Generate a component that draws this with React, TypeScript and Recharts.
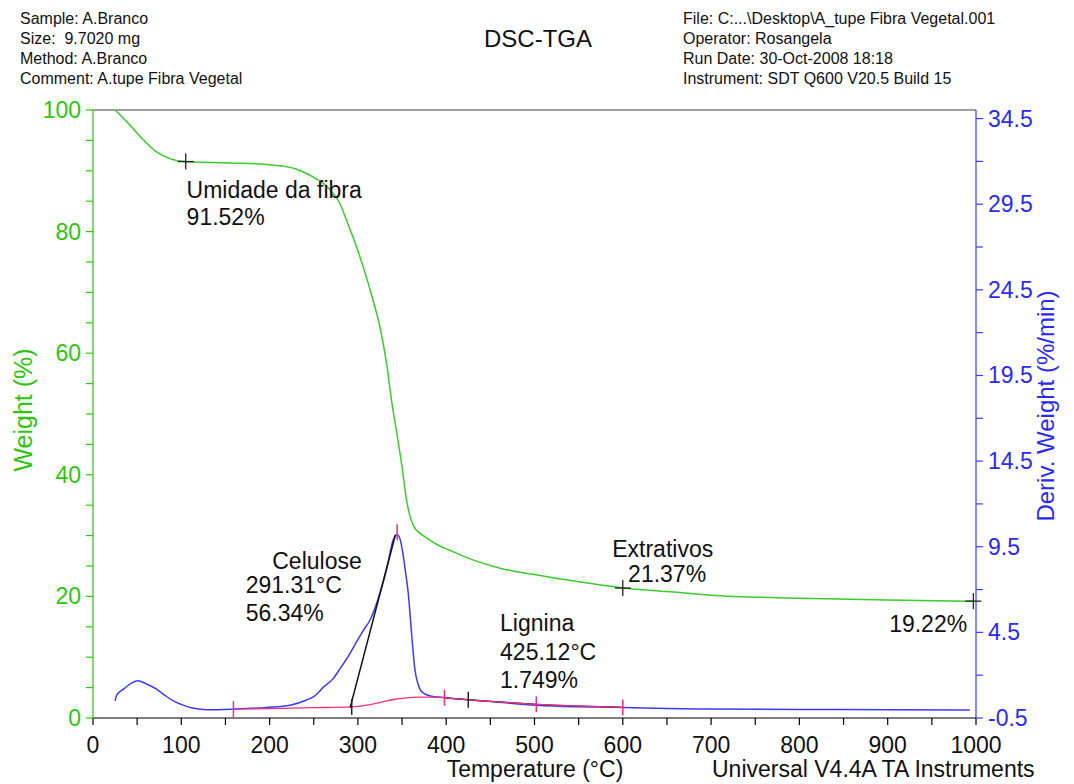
import { LineChart, Line, XAxis, YAxis, ReferenceLine, ReferenceDot } from 'recharts';

// SDT Q600 run, A.tupe fibra vegetal — TGA weight (left) + DTG (right)
const FONT = '"Liberation Sans", Arial, Helvetica, sans-serif';
const GREEN = '#2fc40f';
const GREEN_LINE = '#3acc2a';
const BLUE = '#2b2bf0';
const BLUE_LINE = '#3b3bff';
const PINK = '#f0307a';

const weightTemp = [25, 42, 57, 72, 87, 106, 155, 204, 230, 249, 262, 272, 280, 287, 296, 306, 317, 325, 333, 338, 344, 350, 355, 359, 363, 370, 378, 390, 404, 430, 462, 500, 550, 600, 650, 700, 800, 900, 998];
const weightPct = [100, 97.5, 95.1, 93.1, 92.0, 91.5, 91.3, 90.95, 90.3, 89.0, 87.8, 86.3, 84.5, 81.9, 78.5, 74.2, 68.8, 64.3, 57.8, 52.3, 46.9, 41.3, 35.9, 33.2, 31.6, 30.4, 29.6, 28.5, 27.6, 26.0, 24.6, 23.6, 22.4, 21.4, 20.8, 20.2, 19.7, 19.4, 19.22];

const dtgTemp = [25, 27, 35, 44, 51, 60, 72, 82, 91, 102, 113, 129, 159, 197, 223, 242, 250, 261, 272, 280, 287, 298, 306, 314, 325, 333, 340, 344.5, 348, 351, 354, 357, 361, 364.5, 368, 372, 381, 400, 427, 460, 502, 550, 600, 650, 700, 800, 900, 993];
const dtgRate = [0.5, 0.85, 1.2, 1.55, 1.67, 1.5, 1.18, 0.8, 0.5, 0.25, 0.08, -0.02, 0.02, 0.12, 0.25, 0.55, 0.75, 1.3, 1.8, 2.4, 2.93, 3.9, 4.6, 5.25, 6.8, 8.3, 9.9, 10.2, 9.9, 9.1, 8.0, 6.8, 4.3, 2.35, 1.5, 1.05, 0.8, 0.68, 0.56, 0.42, 0.25, 0.16, 0.12, 0.05, 0.02, 0.0, -0.02, -0.03];

// integration baseline (pink) and lignina segment (black)
const baseTemp = [159, 200, 250, 293, 310, 325, 340, 355, 370, 385, 400, 425, 450, 502, 550, 600];
const baseRate = [0.02, 0.05, 0.1, 0.15, 0.25, 0.4, 0.58, 0.68, 0.72, 0.72, 0.68, 0.56, 0.47, 0.3, 0.2, 0.12];
const ligTemp = [398, 425, 460, 502, 550, 600];
const ligRate = [0.68, 0.56, 0.44, 0.3, 0.2, 0.12];

// onset tangent of the celulose peak
const tangentTemp = [291.31, 342.5];
const tangentRate = [0.12, 10.2];

const pinkMarkTemp = [159, 344.5, 398, 502, 600];
const pinkMarkRate = [0.02, 10.35, 0.68, 0.3, 0.12];
const blackMarkTemp = [293, 425];
const blackMarkRate = [0.15, 0.56];
const crossTemp = [105, 600, 997];
const crossPct = [91.52, 21.37, 19.22];

const noteText = ['Umidade da fibra', '91.52%', 'Celulose', '291.31°C', '56.34%', 'Lignina', '425.12°C', '1.749%', 'Extrativos', '21.37%', '19.22%'];
const noteTemp = [106, 106, 203, 173, 173, 461, 461, 461, 588, 606, 990];
const notePct = [85.5, 81.1, 24.5, 20.5, 16.0, 14.3, 9.5, 4.9, 26.5, 22.4, 14.1];
const noteAnchor = ['start', 'start', 'start', 'start', 'start', 'start', 'start', 'start', 'start', 'start', 'end'];

const xLabels = [0, 100, 200, 300, 400, 500, 600, 700, 800, 900, 1000];
const xMinor = [50, 150, 250, 350, 450, 550, 650, 750, 850, 950];
const wLabels = [0, 20, 40, 60, 80, 100];
const wMinor = [5, 10, 15, 25, 30, 35, 45, 50, 55, 65, 70, 75, 85, 90, 95];
const dLabels = [-0.5, 4.5, 9.5, 14.5, 19.5, 24.5, 29.5, 34.5];
const dMinor = [2, 7, 12, 17, 22, 27, 32];

const headerLeft = ['Sample: A.Branco', 'Size:  9.7020 mg', 'Method: A.Branco', 'Comment: A.tupe Fibra Vegetal'];
const headerRight = ['File: C:...\\Desktop\\A_tupe Fibra Vegetal.001', 'Operator: Rosangela', 'Run Date: 30-Oct-2008 18:18', 'Instrument: SDT Q600 V20.5 Build 15'];

const weightData = weightTemp.map((t, i) => ({ t, w: weightPct[i] }));
const dtgData = dtgTemp.map((t, i) => ({ t, d: dtgRate[i] }));
const baseData = baseTemp.map((t, i) => ({ t, d: baseRate[i] }));
const ligData = ligTemp.map((t, i) => ({ t, d: ligRate[i] }));
const sortNum = (a: number[]) => [...a].sort((p, q) => p - q);

function XTick({ x, y, payload }: any) {
  const major = xLabels.includes(payload.value);
  return (
    <g>
      <line x1={x} x2={x} y1={y} y2={y + 7} stroke="#000" strokeWidth={1.2} />
      {major && <text x={x} y={y + 35} textAnchor="middle" fontSize={23} fontFamily={FONT} fill="#111">{payload.value}</text>}
    </g>
  );
}

function WTick({ x, y, payload }: any) {
  const major = wLabels.includes(payload.value);
  return (
    <g>
      <line x1={x - 7} x2={x} y1={y} y2={y} stroke={GREEN} strokeWidth={1.2} />
      {major && <text x={x - 12} y={y + 8} textAnchor="end" fontSize={23} fontFamily={FONT} fill={GREEN}>{payload.value}</text>}
    </g>
  );
}

function DTick({ x, y, payload }: any) {
  const major = dLabels.includes(payload.value);
  return (
    <g>
      <line x1={x} x2={x + 7} y1={y} y2={y} stroke={BLUE_LINE} strokeWidth={1.2} />
      {major && <text x={x + 12} y={y + 8} textAnchor="start" fontSize={23} fontFamily={FONT} fill={BLUE}>{String(payload.value)}</text>}
    </g>
  );
}

const vMark = (color: string) => (p: any) => (
  <line x1={p.cx} x2={p.cx} y1={p.cy - 8} y2={p.cy + 8} stroke={color} strokeWidth={1.5} />
);

const cross = (p: any) => (
  <g stroke="#222" strokeWidth={1.3}>
    <line x1={p.cx - 8} x2={p.cx + 8} y1={p.cy} y2={p.cy} />
    <line x1={p.cx} x2={p.cx} y1={p.cy - 8} y2={p.cy + 8} />
  </g>
);

const note = (text: string, anchor: string) => (p: any) => (
  <text x={p.cx} y={p.cy} textAnchor={anchor as any} fontSize={23} fontFamily={FONT} fill="#111">{text}</text>
);

export default function App() {
  return (
    <div style={{ position: 'absolute', left: 0, top: 0, width: 1074, height: 784, background: '#fff', fontFamily: FONT }}>
      <LineChart width={1074} height={784} margin={{ top: 110, right: 0, bottom: 0, left: 0 }}>
        <XAxis xAxisId={0} type="number" dataKey="t" domain={[0, 1000]} ticks={sortNum([...xLabels, ...xMinor])} interval={0}
          height={66} tickSize={0} tickMargin={0} tick={<XTick />} axisLine={{ stroke: '#000', strokeWidth: 1.2 }} allowDataOverflow />
        <YAxis yAxisId="w" orientation="left" type="number" domain={[0, 100]} ticks={sortNum([...wLabels, ...wMinor])} interval={0}
          width={93} tickSize={0} tickMargin={0} tick={<WTick />} axisLine={{ stroke: GREEN, strokeWidth: 1.2 }} allowDataOverflow />
        <YAxis yAxisId="d" orientation="right" type="number" domain={[-0.5, 35]} ticks={sortNum([...dLabels, ...dMinor])} interval={0}
          width={98} tickSize={0} tickMargin={0} tick={<DTick />} axisLine={{ stroke: BLUE_LINE, strokeWidth: 1.2 }} allowDataOverflow />

        <ReferenceLine yAxisId="w" y={100} stroke="#7a7f7f" strokeWidth={1.5} />

        <Line yAxisId="w" data={weightData} dataKey="w" type="monotone" stroke={GREEN_LINE} strokeWidth={1.5} dot={false} isAnimationActive={false} />
        <Line yAxisId="d" data={dtgData} dataKey="d" type="monotone" stroke={BLUE_LINE} strokeWidth={1.5} dot={false} isAnimationActive={false} />
        <Line yAxisId="d" data={ligData} dataKey="d" type="monotone" stroke="#222" strokeWidth={1.2} dot={false} isAnimationActive={false} />
        <Line yAxisId="d" data={baseData} dataKey="d" type="monotone" stroke={PINK} strokeWidth={1.3} dot={false} isAnimationActive={false} />

        <ReferenceLine yAxisId="d" stroke="#111" strokeWidth={1.5}
          segment={[{ x: tangentTemp[0], y: tangentRate[0] }, { x: tangentTemp[1], y: tangentRate[1] }]} />

        {pinkMarkTemp.map((t, i) => (
          <ReferenceDot key={'p' + i} yAxisId="d" x={t} y={pinkMarkRate[i]} shape={vMark(PINK)} />
        ))}
        {blackMarkTemp.map((t, i) => (
          <ReferenceDot key={'b' + i} yAxisId="d" x={t} y={blackMarkRate[i]} shape={vMark('#222')} />
        ))}
        {crossTemp.map((t, i) => (
          <ReferenceDot key={'c' + i} yAxisId="w" x={t} y={crossPct[i]} shape={cross} />
        ))}
        {noteText.map((s, i) => (
          <ReferenceDot key={'n' + i} yAxisId="w" x={noteTemp[i]} y={notePct[i]} shape={note(s, noteAnchor[i])} />
        ))}
      </LineChart>

      <svg width={1074} height={784} style={{ position: 'absolute', left: 0, top: 0, pointerEvents: 'none' }} fontFamily={FONT}>
        {headerLeft.map((s, i) => (
          <text key={'hl' + i} x={20} y={24 + i * 20} fontSize={16} fill="#111" style={{ whiteSpace: 'pre' }}>{s}</text>
        ))}
        {headerRight.map((s, i) => (
          <text key={'hr' + i} x={683} y={24 + i * 20} fontSize={16} fill="#111">{s}</text>
        ))}
        <text x={538} y={47} fontSize={24} textAnchor="middle" fill="#111">DSC-TGA</text>
        <text x={32} y={410} fontSize={25} textAnchor="middle" fill={GREEN} transform="rotate(-90 32 410)">Weight (%)</text>
        <text x={1054} y={406} fontSize={24} textAnchor="middle" fill={BLUE} transform="rotate(-90 1054 406)">Deriv. Weight (%/min)</text>
        <text x={535} y={777} fontSize={23} textAnchor="middle" fill="#111">Temperature (°C)</text>
        <text x={712} y={777} fontSize={23} fill="#111">Universal V4.4A TA Instruments</text>
      </svg>
    </div>
  );
}
